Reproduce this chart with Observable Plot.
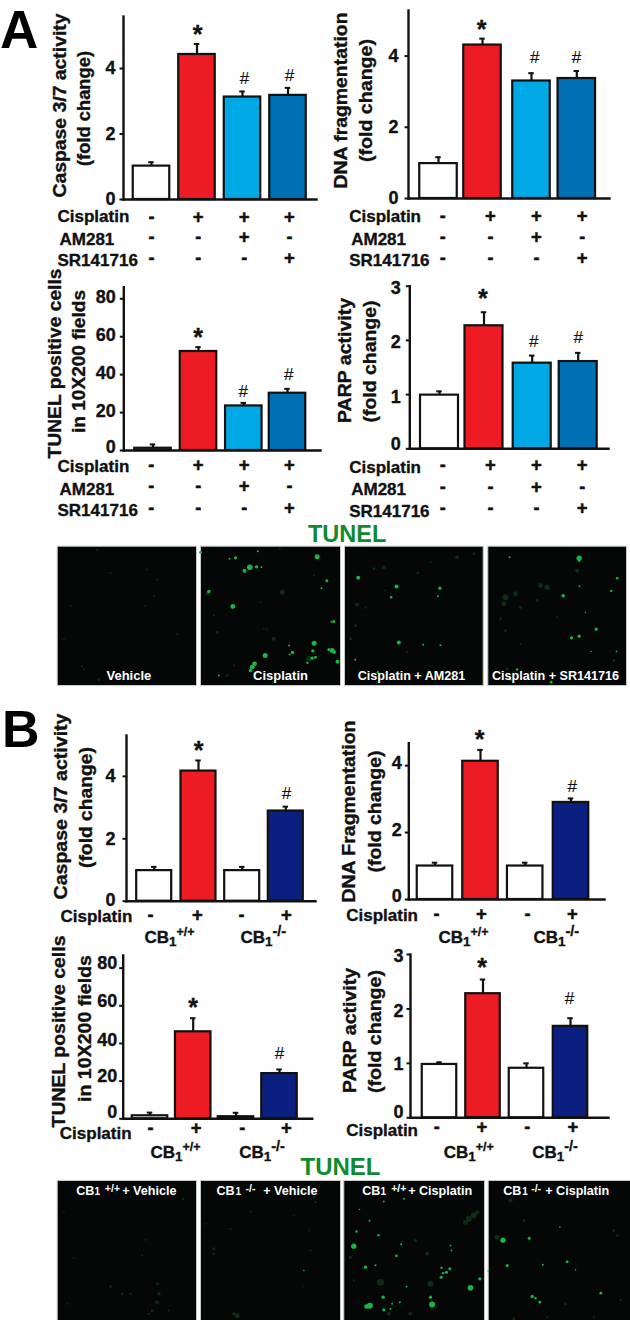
<!DOCTYPE html>
<html><head><meta charset="utf-8">
<script src="https://cdn.jsdelivr.net/npm/d3@7"></script>
<script src="https://cdn.jsdelivr.net/npm/@observablehq/plot@0.6"></script>
<style>
html,body{margin:0;padding:0;background:#fff}
#page{position:relative;width:630px;height:1320px;overflow:hidden;font-family:"Liberation Sans",Arial,sans-serif}
#page svg{position:absolute;left:0;top:0;background:transparent;overflow:visible}
.head{position:absolute;font-weight:bold;line-height:1;white-space:nowrap}
svg.micro g[aria-label="dot"]{filter:blur(.6px)}
</style></head><body><div id="page"></div>
<script>
// ---------- categories ----------
const groupsA = ["Vehicle","Cisplatin","Cisplatin + AM281","Cisplatin + SR141716"];
const groupsB = ["CB1+/+ Vehicle","CB1+/+ Cisplatin","CB1-/- Vehicle","CB1-/- Cisplatin"];
const coloursA = ["#ffffff","#ed1c24","#00a9e6","#0070b4"];
const coloursB = ["#ffffff","#ed1c24","#ffffff","#0a1f80"];
const cisplatinRowA = ["-","+","+","+"], am281Row = ["-","-","+","-"], srRow = ["-","-","-","+"];
const cisplatinRowB = ["-","+","-","+"];

// ---------- series values ----------
const caspaseA = [1.02,4.43,3.13,3.18], caspaseAErr = [1.14,4.75,3.30,3.41];
const dnaA = [0.98,4.31,3.30,3.37], dnaAErr = [1.16,4.49,3.52,3.58];
const tunelA = [1.2,52.2,23.5,30.2], tunelAErr = [3.2,54.5,25.1,32.5];
const parpA = [0.99,2.27,1.58,1.61], parpAErr = [1.06,2.52,1.72,1.77];
const caspaseB = [0.98,4.17,0.98,2.89], caspaseBErr = [1.10,4.51,1.10,3.03];
const dnaB = [1.0,4.13,1.0,2.90], dnaBErr = [1.10,4.47,1.10,3.02];
const tunelB = [1.6,46.2,1.1,24.0], tunelBErr = [3.3,53.4,3.2,26.2];
const parpB = [0.98,2.28,0.91,1.68], parpBErr = [1.02,2.54,1.0,1.83];

// ---------- layout of the panels (page pixels) ----------
const panels = [
 {groups:groupsA,colours:coloursA,v:caspaseA,e:caspaseAErr,left:123,right:316,top:16,base:199,yMax:5.59,ticks:[0,2,4],gap:8,tickDy:[0,0,0],
  cx:[151,196.5,242,287.5],w:36.5,
  titles:[["Caspase 3/7 activity",60,105,184],["(fold change)",84,108,115]],
  rowLabels:[["Cisplatin",57,216.5],["AM281",59,239],["SR141716",57,260]],
  rows:[[cisplatinRowA,216.5],[am281Row,236.5],[srRow,257.5]],sx:[151,197.7,243.7,289],
  sig:[["*",197,29],["#",244,78],["#",289,75]]},
 {groups:groupsA,colours:coloursA,v:dnaA,e:dnaAErr,left:408,right:609,top:10,base:198,yMax:5.28,ticks:[0,2,4],gap:10,tickDy:[0,0,0],
  cx:[438,482,531,576.3],w:37.5,
  titles:[["DNA fragmentation",341,100,176],["(fold change)",366,100,123]],
  rowLabels:[["Cisplatin",348.7,216.5],["AM281",350.7,239.5],["SR141716",348.7,260]],
  rows:[[cisplatinRowA,216],[am281Row,236.7],[srRow,257.3]],sx:[442.3,490,536,581.7],
  sig:[["*",481,23.5],["#",534.3,56.7],["#",576,56.7]]},
 {groups:groupsA,colours:coloursA,v:tunelA,e:tunelAErr,left:123.3,right:320,top:286.7,base:450,yMax:86.1,ticks:[0,20,40,60,80],gap:8,tickDy:[-3,-1,-1,-1,-1.5],
  cx:[152.5,198,243.3,287],w:36.5,
  titles:[["TUNEL positive cells",55,363,190],["in 10X200 fields",79,361,143]],
  rowLabels:[["Cisplatin",57,466],["AM281",59,489.3],["SR141716",57,510]],
  rows:[[cisplatinRowA,465],[am281Row,486],[srRow,507.3]],sx:[150.7,197.7,243.7,289],
  sig:[["*",197.7,331.7],["#",242.7,391],["#",288.3,374.3]]},
 {groups:groupsA,colours:coloursA,v:parpA,e:parpAErr,left:409.3,right:608,top:285.7,base:448.3,yMax:3,ticks:[0,1,2,3],gap:9,tickDy:[-5,2.5,1.5,2],
  cx:[439,483.5,531.7,577.7],w:38,
  titles:[["PARP activity",345,360,125],["(fold change)",370,361,122]],
  rowLabels:[["Cisplatin",348.7,466.7],["AM281",350.7,489.3],["SR141716",348.7,510.7]],
  rows:[[cisplatinRowA,465],[am281Row,486.7],[srRow,507.7]],sx:[442.3,490,536,581.7],
  sig:[["*",482.3,292.7],["#",533.3,340.7],["#",577.7,336.7]]},
 {groups:groupsB,colours:coloursB,v:caspaseB,e:caspaseBErr,left:126,right:315,top:735,base:900.7,yMax:5.31,ticks:[0,2,4],gap:11,tickDy:[-1,0,0],
  cx:[153.7,198,241.7,285.3],w:35,
  titles:[["Caspase 3/7 activity",61,806,186],["(fold change)",86,807,121]],
  rowLabels:[["Cisplatin",60,916.5]],rows:[[cisplatinRowB,914.5]],sx:[150,197,241,286],
  sig:[["*",198,745],["#",286,792.7]],cb:[[144,937,"+/+"],[240,937,"-/-"]]},
 {groups:groupsB,colours:coloursB,v:dnaB,e:dnaBErr,left:408.3,right:604,top:742.7,base:899,yMax:4.67,ticks:[0,2,4],gap:7,tickDy:[-3,-2,-2],
  cx:[434.5,480,524.7,570.5],w:35.5,
  titles:[["DNA Fragmentation",349,811,182],["(fold change)",375,811,122]],
  rowLabels:[["Cisplatin",345.7,915.5]],rows:[[cisplatinRowB,913.5]],sx:[436,481,527,572],
  sig:[["*",479,734],["#",571.7,785.7]],cb:[[438,937,"+/+"],[533,937,"-/-"]]},
 {groups:groupsB,colours:coloursB,v:tunelB,e:tunelBErr,left:122.7,right:311.7,top:955,base:1118.3,yMax:86.7,ticks:[0,20,40,60,80],gap:6,tickDy:[-6.5,-5,-3.5,-5,-5],
  cx:[149.5,192.7,235.5,279],w:35.5,
  titles:[["TUNEL positive cells",59.3,1031,192],["in 10X200 fields",85,1028,147]],
  rowLabels:[["Cisplatin",59.3,1133.5]],rows:[[cisplatinRowB,1128]],sx:[150,195.7,241.7,286],
  sig:[["*",192.7,1001.7],["#",279,1052.7]],cb:[[150,1152,"+/+"],[238.7,1152,"-/-"]]},
 {groups:groupsB,colours:coloursB,v:parpB,e:parpBErr,left:410,right:608,top:954,base:1117.3,yMax:3,ticks:[0,1,2,3],gap:7,tickDy:[-6,1,2,2],
  cx:[439,482.5,526,570],w:34.5,
  titles:[["PARP activity",350,1030,125],["(fold change)",375,1031,123]],
  rowLabels:[["Cisplatin",345.7,1130.5]],rows:[[cisplatinRowB,1127]],sx:[436.3,481.3,526.7,572.3],
  sig:[["*",481.7,962.3],["#",569,998]],cb:[[443.3,1152,"+/+"],[531.7,1152,"-/-"]]}
];

// ---------- micrographs: cells [x, y, radius] ----------
const vehicleFaint = [[140,72,1],[180,142,1],[290,132,1],[320,162,1],[60,242,1],[285,242,1],[310,212,1],[380,325,1],[100,432,1],[145,462,1.4],[95,422,1],[40,342,1]];
const cisplatinBright = [[450,80,1.5],[555,97,1.6],[537,100,1],[598,125,2.8],[582,136,2],[618,124,1.7],[633,125,1],[800,94,2.5],[829,166,1.5],[813,188,1],[475,198,1.8],[547,243,2.4],[850,288,1.5],[843,289,1],[791,353,2.5],[787,376,1.7],[726,381,1.7],[718,387,1],[716,360,1],[644,390,2.5],[845,375,2.4],[835,372,1.5],[851,380,1.8],[861,409,2],[785,398,1.7],[795,395,1.5],[771,412,1.2],[612,415,2.4],[605,425,2.4],[600,435,1.8],[622,77,1],[505,450,1]];
const cisplatinFaint = [[688,70,1],[640,310,1],[650,312,1],[670,340,2],[775,400,3],[470,205,2],[695,200,2.5],[530,450,1.5],[550,420,1],[500,320,1.5],[790,150,1],[630,230,1],[490,270,1]];
const am281Bright = [[53,157,2],[168,183,2],[298,188,1.6],[152,215,1.2],[175,351,2],[248,358,1],[300,359,1],[44,403,1],[292,212,1],[112,440,1.2]];
const am281Faint = [[75,247,1],[135,195,1],[130,125,2],[350,95,2],[232,142,1.5],[50,237,2],[45,300,1.5],[100,130,1.5],[200,380,1],[170,440,1.5],[30,340,1.5],[400,85,1.5],[270,110,1]];
const srBright = [[716,98,2.6],[716,106,1.2],[668,211,1.8],[830,158,1.3],[812,196,1.2],[717,182,1],[693,337,1.6],[716,332,1.6],[767,311,1.6],[507,95,1],[735,260,.8],[752,378,.8],[828,378,.9],[632,470,1.4],[530,432,1.2],[510,462,1]];
const srFaint = [[495,215,3],[490,235,2.5],[600,180,2.5],[620,185,2.5],[525,205,2.5],[710,135,2],[480,280,1.5],[495,315,1.5],[590,225,1.5],[540,245,1.5],[820,405,1.5],[540,355,1],[650,275,1],[500,430,1.5]];
const cbWtVehicleFaint = [[320,400,1.5],[325,430,1.8],[320,455,2],[305,480,1.5],[295,490,1.2],[180,408,1.5],[215,430,1.5],[240,430,1.2],[398,145,1.2],[285,268,1],[275,315,.9],[70,322,.9],[40,185,.8],[355,480,1],[50,460,.9]];
const cbKoVehicleBright = [[760,360,.8]];
const cbKoVehicleFaint = [[490,295,1.5],[490,310,1.4],[560,495,2.6],[550,490,1.8],[790,140,1.2],[795,155,1.2],[600,183,1],[540,235,1],[775,240,.9],[780,300,1],[465,220,.9],[730,195,.8],[760,408,.8]];
const cbWtCisBright = [[40,287,2.7],[88,466,3],[78,468,2.3],[275,462,3],[270,440,1.6],[390,412,2.8],[418,385,1.7],[75,350,1.7],[105,344,1],[168,316,1.4],[128,440,1.7],[130,478,1.6],[302,380,1.5],[303,352,1.2],[328,355,1.5],[318,365,1.5],[308,368,1.2],[48,243,1.2],[87,211,1],[114,254,1.2],[57,177,.8],[182,281,1],[198,408,1],[330,285,.9],[333,300,.9],[190,145,1],[130,153,.9],[172,118,.9],[155,460,1],[150,475,1],[178,455,1]];
const cbWtCisFaint = [[385,205,3],[400,195,3],[375,215,2.5],[410,185,2],[120,395,3.5],[270,400,3],[260,310,2],[225,270,1.5],[210,490,2],[30,320,1.5],[40,390,1],[145,490,2]];
const cbKoCisBright = [[487,269,2.6],[566,263,1.5],[500,345,1.6],[680,334,1.4],[575,438,1.7],[585,443,1.2],[598,455,1.4],[781,428,1.4],[607,343,1],[658,230,.8],[443,362,.8],[705,358,.8]];
const cbKoCisFaint = [[510,150,2],[550,210,1.5],[470,260,2.5],[820,240,1.5],[830,255,1.5],[840,448,1.3],[675,460,1.5],[520,505,1.5],[760,500,1],[620,500,1]];

const micrographs = [
 {px:[56.7,196],py:[545.7,685],dx:[20,438],dy:[62,480],bright:[],faint:vehicleFaint,
  labels:[["Vehicle",235,452,13,"middle"]]},
 {px:[200,340],py:[545.7,685],dx:[450,870],dy:[62,480],bright:cisplatinBright,faint:cisplatinFaint,
  labels:[["Cisplatin",690,452,13,"middle"]]},
 {px:[344,482.7],py:[545.7,685],dx:[12,428],dy:[62,480],bright:am281Bright,faint:am281Faint,
  labels:[["Cisplatin + AM281",213,452,12.6,"middle"]]},
 {px:[487.3,626],py:[545.7,685],dx:[442,858],dy:[62,480],bright:srBright,faint:srFaint,
  labels:[["Cisplatin + SR141716",645,452,12.6,"middle"]]},
 {px:[56.7,196],py:[1180,1320],dx:[20,438],dy:[90,510],bright:[],faint:cbWtVehicleFaint,
  labels:[["CB",77,122,12.6,"start"],["1",132,125,10,"start"],["+/+",163,114,10.5,"start"],["+ Vehicle",215,122,12.6,"start"]]},
 {px:[200,340],py:[1180,1320],dx:[450,870],dy:[90,510],bright:cbKoVehicleBright,faint:cbKoVehicleFaint,
  labels:[["CB",498,120,12.6,"start"],["1",555,123,10,"start"],["-/-",585,113,10.5,"start"],["+ Vehicle",638,120,12.6,"start"]]},
 {px:[343.3,484],py:[1180,1320],dx:[10,432],dy:[90,510],bright:cbWtCisBright,faint:cbWtCisFaint,
  labels:[["CB",65,122,12.6,"start"],["1",120,125,10,"start"],["+/+",152,114,10.5,"start"],["+ Cisplatin",203,122,12.6,"start"]]},
 {px:[487.7,630],py:[1180,1320],dx:[443,870],dy:[90,510],bright:cbKoCisBright,faint:cbKoCisFaint,
  labels:[["CB",488,120,12.6,"start"],["1",545,123,10,"start"],["-/-",572,113,10.5,"start"],["+ Cisplatin",614,120,12.6,"start"]]}
];

const heads = [
 ["A",0,3,53,"#000"],["B",2,703,52,"#000"],
 ["TUNEL",308,523,23.5,"#0f8a2e"],["TUNEL",300.5,1155,24,"#0f8a2e"]
];

// ---------- drawing ----------
const W = 630, H = 1320;
const page = document.getElementById("page");
const font = '"Liberation Sans",Arial,sans-serif';
const ink = "#111";
const heavy = {stroke:ink,strokeWidth:.35};

function barPanel(p){
  const n = p.groups.length;
  const step = (p.cx[n-1]-p.cx[0])/(n-1);
  const pad = 1-p.w/step;
  const uni = i => p.cx[0]+i*step;
  const at = (t,px,py,o={}) => Plot.text([t],{text:d=>d,frameAnchor:"top-left",dx:px-p.left,dy:py-p.top,
        lineAnchor:"middle",textAnchor:"start",fontWeight:"bold",fontSize:17,fill:ink,...heavy,...o});
  const marks = [];
  // error bars sit behind the bars
  p.groups.forEach((g,i)=>{
    const d = [{g,v:p.v[i],e:p.e[i],c:p.colours[i]}], dx = p.cx[i]-uni(i);
    marks.push(Plot.ruleX(d,{x:"g",y1:"v",y2:"e",stroke:ink,strokeWidth:2.2,dx}));
    marks.push(Plot.tickY(d,{x:"g",y:"e",stroke:ink,strokeWidth:2,dx,insetLeft:(p.w-5.5)/2,insetRight:(p.w-5.5)/2}));
    marks.push(Plot.barY(d,{x:"g",y:"v",fill:"c",stroke:ink,strokeWidth:2.2,dx}));
  });
  marks.push(Plot.ruleY(p.ticks,{y:d=>d,insetLeft:-3.5,insetRight:p.right-p.left,stroke:ink,strokeWidth:2}));
  p.ticks.forEach((t,i)=>marks.push(Plot.text([t],{y:d=>d,text:d=>String(d),frameAnchor:"left",textAnchor:"end",lineAnchor:"middle",
     dx:-p.gap,dy:p.tickDy[i],fontSize:18,fontWeight:"bold",fill:ink,...heavy})));
  marks.push(Plot.frame({anchor:"left",stroke:ink,strokeWidth:2.4}));
  marks.push(Plot.frame({anchor:"bottom",stroke:ink,strokeWidth:2.4}));
  p.titles.forEach(([t,x,y])=>marks.push(at(t,x,y,{rotate:-90,textAnchor:"middle",fontSize:17.5})));
  p.rowLabels.forEach(([t,x,y])=>marks.push(at(t,x,y)));
  p.rows.forEach(([row,y])=>row.forEach((s,i)=>marks.push(
     Plot.text([p.groups[i]],{x:d=>d,text:()=>s,frameAnchor:"bottom",lineAnchor:"middle",dy:y-p.base,dx:p.sx[i]-uni(i),
        fontWeight:"bold",fontSize:s==="+"?18.5:18,fill:ink,stroke:ink,strokeWidth:.5}))));
  p.sig.forEach(([s,x,y])=>marks.push(s==="*"
     ? at(s,x,y+5.5,{textAnchor:"middle",fontSize:25})
     : at(s,x,y,{textAnchor:"middle",fontSize:17,fontWeight:"normal",strokeWidth:.15})));
  (p.cb||[]).forEach(([x,y,sup])=>{
     marks.push(at("CB",x,y));
     marks.push(at("1",x+24.5,y+4,{fontSize:13.5}));
     marks.push(at(sup,x+32,y-6,{fontSize:sup==="+/+"?12.5:14.5}));
  });
  const svg = Plot.plot({width:W,height:H,marginLeft:p.left,marginRight:W-p.right,marginTop:p.top,marginBottom:H-p.base,
     style:{fontFamily:font,background:"transparent"},
     x:{domain:p.groups,range:[p.cx[0]-step/2,p.cx[n-1]+step/2],paddingInner:pad,paddingOuter:pad/2,round:false,axis:null},
     y:{domain:[0,p.yMax],axis:null},
     marks});
  // the titles are stretched along their length in the figure
  const fit = new Map(p.titles.map(t=>[t[0],t[3]]));
  svg.querySelectorAll("text").forEach(el=>{
    const len = fit.get(el.textContent);
    if(len){el.setAttribute("textLength",len);el.setAttribute("lengthAdjust","spacingAndGlyphs");}
  });
  page.appendChild(svg);
}

function micro(m){
  const marks = [
    Plot.frame({fill:"#040706",stroke:"#c9c9c9",strokeWidth:1}),
    Plot.dot(m.faint,{x:"0",y:"1",r:"2",fill:"#0c2c15",stroke:"none"}),
    Plot.dot(m.bright,{x:"0",y:"1",r:"2",fill:"#15b842",stroke:"none"})
  ];
  m.labels.forEach(([t,x,y,size,anchor])=>marks.push(
    Plot.text([t],{text:d=>d,x:()=>x,y:()=>y,fontSize:size,fontWeight:"bold",fill:"#fff",textAnchor:anchor,lineAnchor:"middle"})));
  const svg = Plot.plot({width:W,height:H,marginLeft:m.px[0],marginRight:W-m.px[1],marginTop:m.py[0],marginBottom:H-m.py[1],
     style:{fontFamily:font,background:"transparent"},
     x:{domain:m.dx,axis:null},y:{domain:m.dy,reverse:true,axis:null},r:{type:"identity"},marks});
  svg.classList.add("micro");
  page.appendChild(svg);
}

micrographs.forEach(micro);
panels.forEach(barPanel);
heads.forEach(([t,x,y,s,c])=>{
  const d=document.createElement("div");d.className="head";d.textContent=t;
  d.style.cssText=`left:${x}px;top:${y}px;font-size:${s}px;color:${c}`;page.appendChild(d);
});
</script></body></html>
